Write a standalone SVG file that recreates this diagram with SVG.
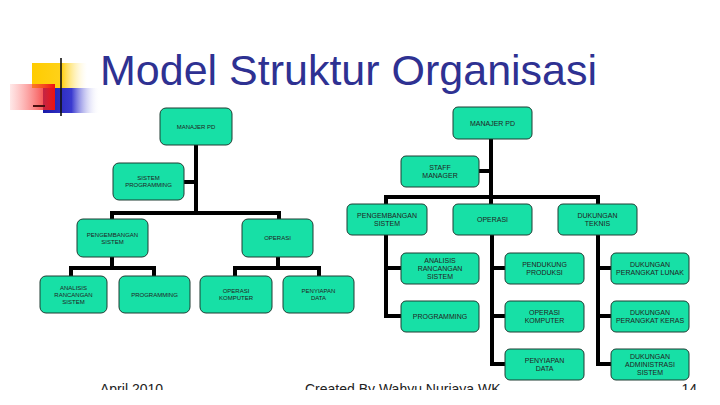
<svg xmlns="http://www.w3.org/2000/svg" width="720" height="405" viewBox="0 0 720 405">
<defs>
<linearGradient id="gY" x1="0" y1="0" x2="1" y2="0"><stop offset="0" stop-color="#ffcc00"/><stop offset="0.55" stop-color="#ffd21a"/><stop offset="1" stop-color="#fff3c0" stop-opacity="0"/></linearGradient>
<linearGradient id="gR" x1="0" y1="0" x2="1" y2="0"><stop offset="0" stop-color="#ff6666" stop-opacity="0.15"/><stop offset="1" stop-color="#ee1111"/></linearGradient>
<linearGradient id="gB" x1="0" y1="0" x2="1" y2="0"><stop offset="0" stop-color="#1a1aa8"/><stop offset="0.5" stop-color="#3a3ad0"/><stop offset="1" stop-color="#ffffff" stop-opacity="0"/></linearGradient>
<linearGradient id="gL" x1="0" y1="0" x2="1" y2="0"><stop offset="0" stop-color="#555"/><stop offset="0.85" stop-color="#aaa"/><stop offset="1" stop-color="#ddd"/></linearGradient>
<clipPath id="foot"><rect x="0" y="0" width="720" height="390"/></clipPath>
</defs>
<style>
.box{fill:#17e0a6;stroke:#1f3d33;stroke-width:1}
.l{font-family:"Liberation Sans",Arial,sans-serif;font-size:6px;fill:#222;text-anchor:middle}
.r{font-family:"Liberation Sans",Arial,sans-serif;font-size:7px;fill:#222;text-anchor:middle}
.con{fill:none;stroke:#000;stroke-width:4;stroke-linecap:square}
.ft{font-family:"Liberation Sans",Arial,sans-serif;font-size:14px;fill:#222}
</style>
<rect width="720" height="405" fill="#fff"/>
<g id="logo">
<rect x="32" y="63" width="55" height="25" fill="url(#gY)"/>
<rect x="43" y="88" width="57" height="25" fill="url(#gB)"/>
<rect x="10" y="84" width="45" height="26" fill="url(#gR)"/>
<line x1="61" y1="58" x2="61" y2="116" stroke="#111" stroke-width="1.6"/>
<line x1="33" y1="106" x2="697" y2="106" stroke="url(#gL)" stroke-width="1.5"/>
<line x1="33" y1="106" x2="45" y2="106" stroke="#4a1010" stroke-width="2"/>
</g>
<text id="title" x="100" y="85" font-family="'Liberation Sans',Arial,sans-serif" font-size="43" fill="#2e3192">Model Struktur Organisasi</text>
<g id="connectors" class="con">
<path d="M196 145V213M184 182H196M112 213H279M112 213V219M279 213V219"/>
<path d="M112 257V268M71 268H154M71 268V276M154 268V276"/>
<path d="M278 257V268M235 268H319M235 268V276M319 268V276"/>
<path d="M491 139V204M479 171H491M386 197H598M386 197V204M598 197V204"/>
<path d="M386 235V316M386 268H401M386 316H401"/>
<path d="M492 235V364M492 268H505M492 316H505M492 364H505"/>
<path d="M598 235V364M598 268H611M598 316H611M598 364H611"/>
</g>
<g id="L_mgr"><rect class="box" x="160" y="108" width="72" height="37" rx="6"/><text class="l" x="196" y="128.6">MANAJER PD</text></g>
<g id="L_sp"><rect class="box" x="113" y="163" width="71" height="37" rx="6"/><text class="l" x="148.5" y="180.1">SISTEM</text><text class="l" x="148.5" y="187.1">PROGRAMMING</text></g>
<g id="L_peng"><rect class="box" x="77" y="219" width="71" height="38" rx="6"/><text class="l" x="112.5" y="236.6">PENGEMBANGAN</text><text class="l" x="112.5" y="243.6">SISTEM</text></g>
<g id="L_ops"><rect class="box" x="242" y="219" width="71" height="38" rx="6"/><text class="l" x="277.5" y="240.1">OPERASI</text></g>
<g id="L_anal"><rect class="box" x="40" y="276" width="67" height="37" rx="6"/><text class="l" x="73.5" y="289.6">ANALISIS</text><text class="l" x="73.5" y="296.6">RANCANGAN</text><text class="l" x="73.5" y="303.6">SISTEM</text></g>
<g id="L_prog"><rect class="box" x="119" y="276" width="71" height="37" rx="6"/><text class="l" x="154.5" y="296.6">PROGRAMMING</text></g>
<g id="L_opk"><rect class="box" x="200" y="276" width="72" height="37" rx="6"/><text class="l" x="236" y="293.1">OPERASI</text><text class="l" x="236" y="300.1">KOMPUTER</text></g>
<g id="L_peny"><rect class="box" x="283" y="276" width="71" height="37" rx="6"/><text class="l" x="318.5" y="293.1">PENYIAPAN</text><text class="l" x="318.5" y="300.1">DATA</text></g>
<g id="R_mgr"><rect class="box" x="453" y="107" width="79" height="32" rx="5"/><text class="r" x="492.5" y="125.5">MANAJER PD</text></g>
<g id="R_staff"><rect class="box" x="401" y="156" width="78" height="31" rx="5"/><text class="r" x="440" y="170">STAFF</text><text class="r" x="440" y="178">MANAGER</text></g>
<g id="R_peng"><rect class="box" x="347" y="204" width="80" height="31" rx="5"/><text class="r" x="387" y="218">PENGEMBANGAN</text><text class="r" x="387" y="226">SISTEM</text></g>
<g id="R_ops"><rect class="box" x="453" y="204" width="79" height="31" rx="5"/><text class="r" x="492.5" y="222">OPERASI</text></g>
<g id="R_duk"><rect class="box" x="558" y="204" width="79" height="31" rx="5"/><text class="r" x="597.5" y="218">DUKUNGAN</text><text class="r" x="597.5" y="226">TEKNIS</text></g>
<g id="R_anal"><rect class="box" x="401" y="253" width="78" height="31" rx="5"/><text class="r" x="440" y="263">ANALISIS</text><text class="r" x="440" y="271">RANCANGAN</text><text class="r" x="440" y="279">SISTEM</text></g>
<g id="R_prog"><rect class="box" x="401" y="301" width="78" height="31" rx="5"/><text class="r" x="440" y="319">PROGRAMMING</text></g>
<g id="R_pend"><rect class="box" x="505" y="253" width="79" height="31" rx="5"/><text class="r" x="544.5" y="267">PENDUKUNG</text><text class="r" x="544.5" y="275">PRODUKSI</text></g>
<g id="R_opk"><rect class="box" x="505" y="301" width="79" height="31" rx="5"/><text class="r" x="544.5" y="315">OPERASI</text><text class="r" x="544.5" y="323">KOMPUTER</text></g>
<g id="R_peny"><rect class="box" x="505" y="349" width="79" height="31" rx="5"/><text class="r" x="544.5" y="363">PENYIAPAN</text><text class="r" x="544.5" y="371">DATA</text></g>
<g id="R_dpl"><rect class="box" x="611" y="253" width="78" height="31" rx="5"/><text class="r" x="650" y="267">DUKUNGAN</text><text class="r" x="650" y="275">PERANGKAT LUNAK</text></g>
<g id="R_dpk"><rect class="box" x="611" y="301" width="78" height="31" rx="5"/><text class="r" x="650" y="315">DUKUNGAN</text><text class="r" x="650" y="323">PERANGKAT KERAS</text></g>
<g id="R_das"><rect class="box" x="611" y="349" width="78" height="31" rx="5"/><text class="r" x="650" y="359">DUKUNGAN</text><text class="r" x="650" y="367">ADMINISTRASI</text><text class="r" x="650" y="375">SISTEM</text></g>
<g id="footer" clip-path="url(#foot)">
<text class="ft" x="100" y="394">April 2010</text>
<text class="ft" x="305" y="394">Created By Wahyu Nurjaya WK</text>
<text class="ft" x="697" y="394" text-anchor="end">14</text>
</g>
</svg>
